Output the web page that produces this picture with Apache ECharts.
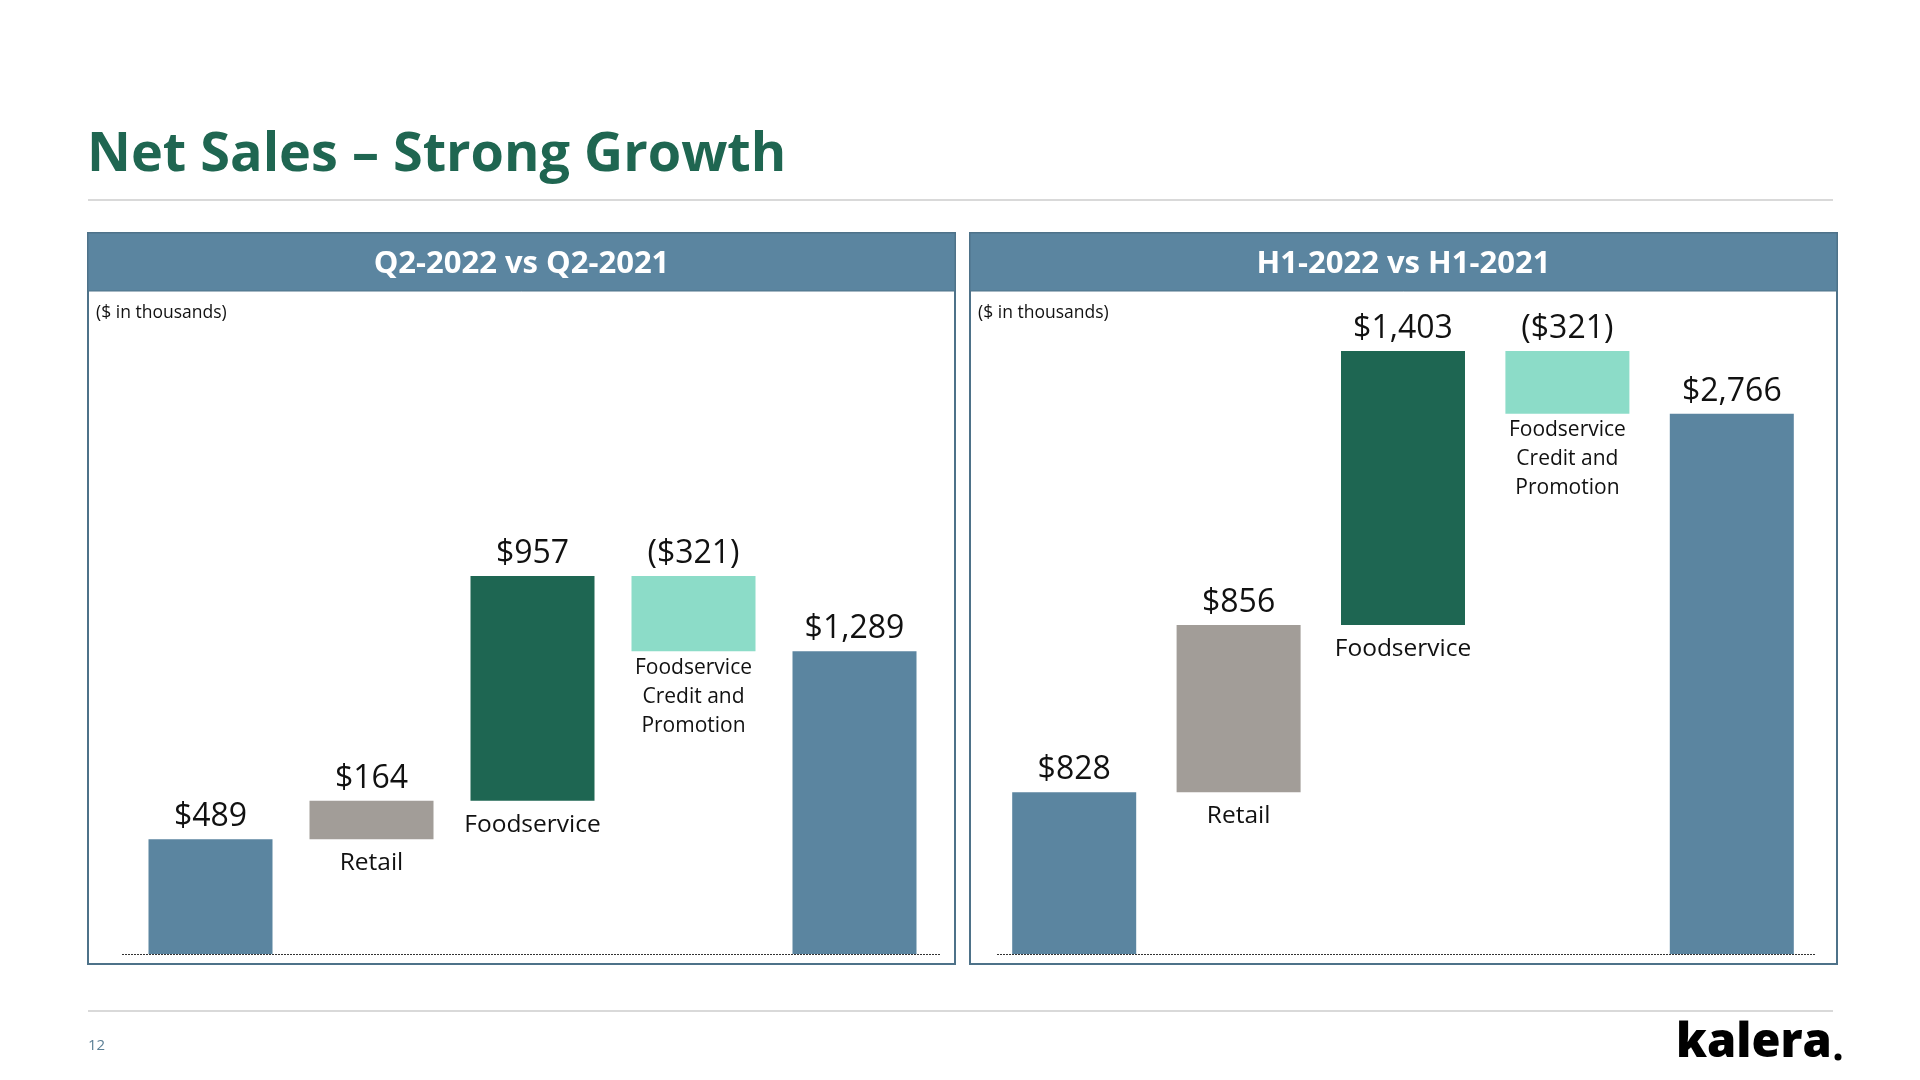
<!DOCTYPE html>
<html>
<head>
<meta charset="utf-8">
<script src="https://cdn.jsdelivr.net/npm/echarts@6/dist/echarts.min.js"></script>
<style>
html,body{margin:0;padding:0;background:#fff;}
#c{width:1920px;height:1080px;}
</style>
</head>
<body>
<div id="c"></div>
<script>
// ---- data ----
const q2Categories = ['Q2-2021', 'Retail', 'Foodservice', 'Foodservice Credit and Promotion', 'Q2-2022'];
const q2Values = [489, 164, 957, -321, 1289];
const h1Categories = ['H1-2021', 'Retail', 'Foodservice', 'Foodservice Credit and Promotion', 'H1-2022'];
const h1Values = [828, 856, 1403, -321, 2766];
const shownCategoryLabels = ['', 'Retail', 'Foodservice', 'Foodservice\nCredit and\nPromotion', ''];
const panelTitles = ['Q2-2022 vs Q2-2021', 'H1-2022 vs H1-2021'];
const unitNote = '($ in thousands)';
const pageTitle = 'Net Sales \u2013 Strong Growth';

// ---- styles ----
const BLUE = '#5B85A0', GRAY = '#A29D98', GREEN = '#1E6652', MINT = '#8CDCC8';
const itemColors = [BLUE, GRAY, GREEN, MINT, BLUE];
const FONT = '"Open Sans", "Noto Sans", sans-serif';

function fmt(v) {
  const s = '$' + Math.abs(v).toLocaleString('en-US');
  return v < 0 ? '(' + s + ')' : s;
}
function waterfall(values) {
  const base = [], height = [];
  let cum = 0;
  values.forEach((v, i) => {
    if (i === 0 || i === values.length - 1) { base.push(0); height.push(v); cum = v; }
    else if (v >= 0) { base.push(cum); height.push(v); cum += v; }
    else { base.push(cum + v); height.push(-v); cum += v; }
  });
  return { base, height };
}

function buildSeries(values, idx) {
  const wf = waterfall(values);
  const baseData = wf.base.map((b, i) => {
    const isMulti = shownCategoryLabels[i].indexOf('\n') >= 0;
    return {
      value: b,
      label: {
        show: shownCategoryLabels[i] !== '',
        position: 'insideTop',
        distance: isMulti ? 2 : 9,
        formatter: shownCategoryLabels[i],
        fontFamily: FONT,
        fontSize: isMulti ? 21 : 24.5,
        lineHeight: isMulti ? 29 : 30,
        color: '#111'
      }
    };
  });
  const valData = wf.height.map((h, i) => ({
    value: h,
    itemStyle: { color: itemColors[i] },
    label: { formatter: fmt(values[i]) }
  }));
  return [
    {
      type: 'bar', xAxisIndex: idx, yAxisIndex: idx, stack: 'wf' + idx,
      barWidth: 124, data: baseData,
      itemStyle: { color: 'rgba(0,0,0,0)' },
      emphasis: { disabled: true }, silent: true
    },
    {
      type: 'bar', xAxisIndex: idx, yAxisIndex: idx, stack: 'wf' + idx,
      barWidth: 124, data: valData,
      label: {
        show: true, position: 'top', distance: 3,
        fontFamily: FONT, fontSize: 32, lineHeight: 38, color: '#111'
      },
      emphasis: { disabled: true }, silent: true
    }
  ];
}

const chart = echarts.init(document.getElementById('c'), null, { renderer: 'canvas' });

function panel(x, title) {
  return [
    { type: 'rect', shape: { x: x, y: 233, width: 867, height: 731 },
      style: { fill: '#fff', stroke: '#4E7289', lineWidth: 2 }, z: 0 },
    { type: 'rect', shape: { x: x, y: 233, width: 867, height: 58 },
      style: { fill: BLUE, stroke: '#4E7289', lineWidth: 1 }, z: 1 },
    { type: 'text', x: x + 433.5, y: 264, z: 2,
      style: { text: title, fill: '#fff', font: 'bold 31px ' + FONT, align: 'center', verticalAlign: 'middle' } },
    { type: 'text', x: x + 8, y: 313, z: 2,
      style: { text: unitNote, fill: '#111', font: '17.5px ' + FONT, align: 'left', verticalAlign: 'middle' } }
  ];
}

const graphics = [].concat(
  [
    { type: 'text', x: 87, y: 156, z: 2,
      style: { text: pageTitle, fill: '#1F6651', font: 'bold 54px ' + FONT, align: 'left', verticalAlign: 'middle' } },
    { type: 'line', shape: { x1: 88, y1: 200, x2: 1833, y2: 200 }, style: { stroke: '#D9D9D9', lineWidth: 2 } },
    { type: 'line', shape: { x1: 88, y1: 1011, x2: 1833, y2: 1011 }, style: { stroke: '#D9D9D9', lineWidth: 2 } },
    { type: 'text', x: 88, y: 1046, style: { text: '12', fill: '#5B7F95', font: '15px ' + FONT, align: 'left', verticalAlign: 'middle' } },
    { type: 'text', x: 1676, y: 1044, style: { text: 'kalera', fill: '#000', font: '800 47px ' + FONT, align: 'left', verticalAlign: 'middle' } },
    { type: 'circle', shape: { cx: 1838, cy: 1057, r: 3.5 }, style: { fill: '#000' } }
  ],
  panel(88, panelTitles[0]),
  panel(970, panelTitles[1]),
  [
    { type: 'line', shape: { x1: 122, y1: 954.5, x2: 940, y2: 954.5 }, z: 5,
      style: { stroke: '#333', lineWidth: 1, lineDash: [2, 1] } },
    { type: 'line', shape: { x1: 997, y1: 954.5, x2: 1815, y2: 954.5 }, z: 5,
      style: { stroke: '#333', lineWidth: 1, lineDash: [2, 1] } }
  ]
);

const axisCommon = { axisLine: { show: false }, axisTick: { show: false }, axisLabel: { show: false }, splitLine: { show: false } };

chart.setOption({
  animation: false,
  backgroundColor: '#fff',
  graphic: { elements: graphics },
  grid: [
    { left: 130, width: 805, top: 484.4, bottom: 126 },
    { left: 992, width: 822, top: 270.4, bottom: 126 }
  ],
  xAxis: [
    Object.assign({ type: 'category', gridIndex: 0, data: q2Categories }, axisCommon),
    Object.assign({ type: 'category', gridIndex: 1, data: h1Categories }, axisCommon)
  ],
  yAxis: [
    Object.assign({ type: 'value', gridIndex: 0, min: 0, max: 2000 }, axisCommon),
    Object.assign({ type: 'value', gridIndex: 1, min: 0, max: 3500 }, axisCommon)
  ],
  series: buildSeries(q2Values, 0).concat(buildSeries(h1Values, 1))
});
</script>
</body>
</html>
